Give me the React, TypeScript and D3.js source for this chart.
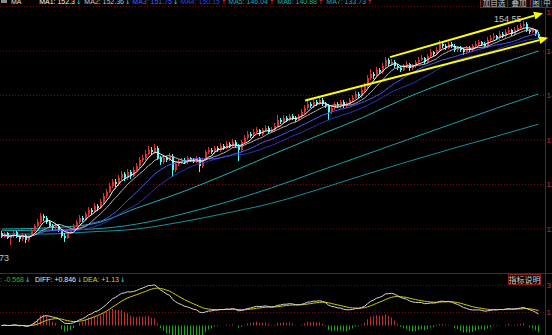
import React from 'react';
import * as d3 from 'd3';

// ---------- DATA ----------
const opens = [
  115.8,115.2,115.8,114.9,115.3,116.0,115.2,114.8,115.5,114.6,
  115.3,116.4,117.2,117.9,119.0,118.6,117.9,117.2,116.8,117.2,
  116.4,115.3,115.0,116.1,116.6,117.2,117.9,118.6,118.3,119.3,
  120.1,119.7,120.8,120.4,121.5,122.6,123.4,124.4,125.2,124.8,
  125.9,126.6,125.9,127.0,126.3,127.4,128.1,129.2,129.5,130.3,
  131.0,130.6,131.4,129.5,128.8,129.5,129.2,129.9,127.4,128.4,
  128.8,129.2,128.8,129.5,129.2,129.0,129.5,128.1,129.2,130.6,
  131.0,130.6,131.4,131.0,131.7,131.4,132.1,131.7,132.5,131.7,
  131.0,132.5,133.2,133.9,133.5,134.3,134.6,133.9,134.6,135.0,
  134.3,134.6,135.4,136.5,136.1,136.8,136.5,137.2,136.8,136.5,
  137.2,137.9,138.6,139.4,139.0,139.7,139.4,140.1,139.4,139.0,
  137.9,138.6,139.4,139.0,139.7,139.0,139.4,140.1,140.5,141.2,
  140.8,141.9,142.6,144.1,144.8,144.5,145.6,145.2,146.3,147.4,
  146.6,147.0,146.3,145.9,145.6,146.3,146.6,145.9,146.3,147.0,
  147.4,147.7,147.0,148.1,148.8,148.5,149.2,150.3,149.9,149.6,
  150.3,149.9,149.2,149.6,149.2,148.8,149.6,149.2,149.9,150.3,
  150.6,150.3,149.9,151.0,151.4,151.7,151.4,152.1,151.7,152.5,
  152.8,152.1,152.8,153.2,153.6,153.9,152.8,152.5,152.8,152.1,
];
const closes = [
  115.3,115.7,115.0,115.3,115.9,115.2,114.8,115.5,114.6,115.3,
  116.4,117.2,117.9,119.0,118.6,117.9,117.2,116.8,117.2,116.4,
  115.3,115.0,116.1,116.6,117.2,117.9,118.6,118.3,119.3,120.1,
  119.7,120.8,120.4,121.5,122.6,123.4,124.4,125.2,124.8,125.9,
  126.6,125.9,127.0,126.3,127.4,128.1,129.2,129.5,130.3,131.0,
  130.6,131.4,129.5,128.8,129.5,129.2,129.9,127.4,128.4,128.8,
  129.2,128.8,129.5,129.2,129.0,129.5,128.1,129.2,130.6,131.0,
  130.6,131.4,131.0,131.7,131.4,132.1,131.7,132.5,131.7,131.0,
  132.5,133.2,133.9,133.5,134.3,134.6,133.9,134.6,135.0,134.3,
  134.6,135.4,136.5,136.1,136.8,136.5,137.2,136.8,136.5,137.2,
  137.9,138.6,139.4,139.0,139.7,139.4,140.1,139.4,139.0,137.9,
  138.6,139.4,139.0,139.7,139.0,139.4,140.1,140.5,141.2,140.8,
  141.9,142.6,144.1,144.8,144.5,145.6,145.2,146.3,147.4,146.6,
  147.0,146.3,145.9,145.6,146.3,146.6,145.9,146.3,147.0,147.4,
  147.7,147.0,148.1,148.8,148.5,149.2,150.3,149.9,149.6,150.3,
  149.9,149.2,149.6,149.2,148.8,149.6,149.2,149.9,150.3,150.6,
  150.3,149.9,151.0,151.4,151.7,151.4,152.1,151.7,152.5,152.8,
  152.1,152.8,153.2,153.6,153.9,152.8,152.5,152.8,152.1,151.7,
];
const highs = [
  116.2,116.0,116.1,115.6,116.3,116.2,115.5,115.8,115.7,115.6,
  116.7,117.6,118.4,119.5,119.4,119.0,118.3,117.6,117.7,117.5,
  116.7,115.8,116.5,117.0,117.6,118.3,119.1,119.0,119.7,120.6,
  120.5,121.3,121.2,122.0,123.1,123.9,125.0,125.8,125.7,126.4,
  127.2,127.0,127.5,127.4,127.9,128.6,129.7,130.1,130.9,131.7,
  131.5,132.0,131.8,129.9,130.0,129.9,130.4,130.2,128.8,129.3,
  129.6,129.5,129.9,129.8,129.6,129.9,129.8,129.6,131.0,131.5,
  131.4,131.8,131.7,132.2,132.0,132.6,132.4,133.0,132.8,132.0,
  132.9,133.7,134.4,134.3,134.8,135.1,134.9,135.0,135.5,135.3,
  135.1,135.9,137.3,136.9,137.3,137.1,137.6,137.5,137.1,137.6,
  138.4,139.1,139.9,139.8,140.2,140.1,140.6,140.4,139.7,139.3,
  139.0,139.8,139.7,140.1,140.0,139.8,140.5,141.0,141.7,141.5,
  142.4,143.1,144.6,145.8,145.2,146.1,146.0,146.8,147.9,147.7,
  147.5,147.3,146.6,146.2,146.7,147.1,146.9,146.7,147.4,147.9,
  148.2,148.0,148.5,149.3,149.1,149.7,151.0,150.6,150.2,150.7,
  150.6,150.2,150.0,149.9,149.5,150.0,149.9,150.3,150.8,151.1,
  150.9,150.6,151.5,151.9,152.2,152.0,152.6,152.4,153.0,153.3,
  153.1,153.3,153.7,154.1,154.55,154.2,153.1,153.2,153.0,152.4,
];
const lows = [
  114.9,114.9,114.7,113.73,115.0,114.9,114.3,114.5,114.0,114.3,
  115.1,116.1,116.9,117.6,118.1,117.5,116.8,116.3,116.5,116.0,
  114.9,114.2,114.8,115.8,116.3,116.9,117.6,117.8,118.0,119.0,
  119.2,119.5,119.9,120.2,121.2,122.3,123.1,124.0,124.3,124.5,
  125.6,125.3,125.6,125.8,126.0,127.1,127.8,128.8,129.2,130.0,
  130.1,130.3,129.1,128.3,128.5,128.8,128.9,126.1,127.0,128.0,
  128.5,128.4,128.5,128.8,128.6,128.7,126.9,127.8,128.9,130.2,
  130.2,130.3,130.6,130.7,131.0,131.1,131.3,131.4,131.3,129.0,
  130.7,132.2,132.9,133.1,133.2,134.0,133.5,133.6,134.3,133.9,
  134.0,134.3,135.2,135.7,135.8,136.1,136.2,136.4,136.1,136.2,
  136.9,137.6,138.3,138.6,138.7,139.0,139.1,139.0,138.6,136.5,
  137.6,138.3,138.6,138.7,138.6,138.7,139.1,139.8,140.2,140.4,
  140.5,141.6,142.3,143.8,144.0,144.2,144.8,144.9,146.0,146.2,
  146.3,145.9,145.5,145.1,145.3,146.0,145.4,145.6,146.0,146.7,
  147.1,146.6,146.7,147.8,148.1,148.2,148.9,149.5,149.2,149.3,
  149.5,148.8,148.9,148.8,148.3,148.5,148.8,148.9,149.6,150.0,
  149.9,149.5,149.6,150.7,151.1,151.0,151.1,151.3,151.4,152.2,
  151.7,151.8,152.5,152.9,153.2,152.4,152.1,152.2,151.7,151.3,
];

// short moving-average periods (MA1..MA4)
const shortMaPeriods = [5, 10, 20, 30];
// long moving averages (MA5..MA7) at these bar indices
const longMaIndex = [0, 15, 30, 45, 60, 75, 90, 105, 120, 135, 150, 165, 179];
const ma5Values = [116.6, 116.8, 117.5, 120.4, 123.3, 126.6, 130.1, 133.5, 136.8, 140.5, 143.7, 146.5, 149.0];
const ma6Values = [116.3, 116.4, 116.6, 117.5, 119.3, 121.5, 124.1, 127.0, 129.9, 132.8, 135.7, 138.6, 141.2];
const ma7Values = [115.7, 115.7, 116.1, 116.6, 117.9, 119.5, 121.3, 123.7, 126.3, 128.8, 131.2, 133.5, 135.7];

const priceTicks = [157.2, 149.1, 141.0, 132.9, 124.8, 116.7];
const priceTickLabels = ['157.20', '149.10', '141.00', '132.90', '124.80', '116.70'];
const macdTicks = [3, 1];
const macdTickLabels = ['3.00', '1.00'];

// drawn trend lines (bar index, price)
const trendLower = [{ i: 101.2, p: 140.0 }, { i: 182.2, p: 151.4 }];
const trendUpper = [{ i: 129.5, p: 147.9 }, { i: 180.5, p: 155.9 }];

// header items: text, arrow, colour, arrow x
const maHeader = [
  { t: 'MA1: 152.3', a: '↓', c: '#ffffff', ax: 76 },
  { t: 'MA2: 152.36', a: '↓', c: '#c8c8c8', ax: 125 },
  { t: 'MA3: 151.75', a: '↓', c: '#4a62ff', ax: 173 },
  { t: 'MA4: 150.15', a: '↑', c: '#3446d0', ax: 221 },
  { t: 'MA5: 146.04', a: '↑', c: '#1fb0b0', ax: 269 },
  { t: 'MA6: 140.88', a: '↑', c: '#1fb0b0', ax: 318 },
  { t: 'MA7: 133.73', a: '↑', c: '#1fb0b0', ax: 367 },
];
const macdHeader = [
  { t: 'MACD: -0.568', a: '↓', c: '#20c020', ax: 25 },
  { t: 'DIFF: +0.846', a: '↓', c: '#e8e8e8', ax: 77 },
  { t: 'DEA: +1.13', a: '↓', c: '#d8d800', ax: 120 },
];
const topButtons = [
  { t: '加自选', x: 480, w: 27 },
  { t: '叠加', x: 507, w: 23 },
  { t: '图', x: 530, w: 11 },
  { t: '中', x: 541, w: 11 },
];

// ---------- COMPONENT ----------
export default function App() {
  const W = 552, H = 335;
  const n = closes.length;
  const x = d3.scaleLinear().domain([0, n - 1]).range([1.5, 1.5 + 3 * (n - 1)]);
  const y = d3.scaleLinear().domain([116.7, 157.2]).range([228.5, 6]);
  const ym = d3.scaleLinear().domain([1, 3]).range([312, 285]);

  const sma = (p: number) =>
    closes.map((_, i) => d3.mean(closes.slice(Math.max(0, i - p + 1), i + 1)) as number);
  const shortMas = shortMaPeriods.map(sma);
  const shortColors = ['#ffffff', '#b4b4b4', '#4a5cff', '#2c36b8'];

  // MACD(12,26,9)
  let e12 = closes[0], e26 = closes[0], dea = 0;
  const diffs: number[] = [], deas: number[] = [], macds: number[] = [];
  closes.forEach((c) => {
    e12 = (2 * c + 11 * e12) / 13;
    e26 = (2 * c + 25 * e26) / 27;
    const diff = e12 - e26;
    dea = (2 * diff + 8 * dea) / 10;
    diffs.push(diff); deas.push(dea); macds.push(2 * (diff - dea));
  });

  const lineP = d3.line<number>().x((_, i) => x(i)).y((v) => y(v));
  const lineLong = d3.line<number>().x((_, k) => x(longMaIndex[k])).y((v) => y(v)).curve(d3.curveMonotoneX);
  const lineM = d3.line<number>().x((_, i) => x(i)).y((v) => ym(v));

  const trend = (pts: { i: number; p: number }[], key: string) => {
    const x1 = x(pts[0].i), y1 = y(pts[0].p), x2 = x(pts[1].i), y2 = y(pts[1].p);
    const ang = Math.atan2(y2 - y1, x2 - x1);
    const L = 9, Wd = 4;
    const bx = x2 - L * Math.cos(ang), by = y2 - L * Math.sin(ang);
    const p1 = [bx + Wd * Math.sin(ang), by - Wd * Math.cos(ang)];
    const p2 = [bx - Wd * Math.sin(ang), by + Wd * Math.cos(ang)];
    return (
      <g key={key}>
        <line x1={x1} y1={y1} x2={bx} y2={by} stroke="#ffff00" strokeWidth={2} />
        <polygon points={`${x2},${y2} ${p1[0]},${p1[1]} ${p2[0]},${p2[1]}`} fill="#ffff00" />
      </g>
    );
  };

  const font = '"Liberation Sans", Arial, "Noto Sans CJK SC", sans-serif';
  const grid = '#7a0a0a';
  const up = '#e0302e';
  const down = '#54fcfc';
  const hiIdx = highs.indexOf(d3.max(highs) as number);
  const loIdx = lows.indexOf(d3.min(lows) as number);
  const fs = 7;
  const afs = 6.5;

  return (
    <svg width={W} height={H} style={{ position: 'fixed', left: 0, top: 0, background: '#000' }} fontFamily={font}>
      <defs>
        <clipPath id="mainClip"><rect x={0} y={6} width={545} height={267} /></clipPath>
        <clipPath id="macdClip"><rect x={0} y={274} width={545} height={61} /></clipPath>
      </defs>
      <rect x={0} y={0} width={W} height={H} fill="#000" />

      {/* grid lines */}
      {priceTicks.map((t, k) => (
        <line key={'g' + k} x1={0} x2={545} y1={y(t) + 0.5} y2={y(t) + 0.5} stroke={grid} strokeDasharray="1,2" />
      ))}
      {macdTicks.map((t, k) => (
        <line key={'gm' + k} x1={0} x2={545} y1={ym(t) + 0.5} y2={ym(t) + 0.5} stroke={grid} strokeDasharray="1,2" />
      ))}
      <line x1={0} x2={W} y1={273.5} y2={273.5} stroke="#8a1010" />
      <line x1={545.5} x2={545.5} y1={0} y2={H} stroke="#8a1010" />

      {/* main panel */}
      <g clipPath="url(#mainClip)">
        {[ma7Values, ma6Values, ma5Values].map((vals, k) => (
          <path key={'lm' + k} d={lineLong(vals) || ''} fill="none" stroke={['#168f98', '#1a9ea6', '#20b0b0'][k]} strokeWidth={1} />
        ))}
        <g shapeRendering="crispEdges">
          {closes.map((c, i) => {
            const o = opens[i];
            const col = c >= o ? up : down;
            const top = y(Math.max(o, c)), bot = y(Math.min(o, c));
            return (
              <g key={'c' + i}>
                <rect x={x(i) - 0.5} y={y(highs[i])} width={1} height={Math.max(1, y(lows[i]) - y(highs[i]))} fill={col} />
                <rect x={x(i) - 1} y={top} width={2} height={Math.max(1, bot - top)} fill={col} />
              </g>
            );
          })}
        </g>
        {shortMas.slice().reverse().map((vals, k) => (
          <path key={'sm' + k} d={lineP(vals) || ''} fill="none" stroke={shortColors.slice().reverse()[k]} strokeWidth={1} />
        ))}
      </g>

      {/* high / low labels */}
      <text x={x(hiIdx) - 2} y={y(highs[hiIdx]) + 1} fontSize={9} fill="#c0c0c0" textAnchor="end">{highs[hiIdx].toFixed(2)}</text>
      <text x={9} y={261} fontSize={9} fill="#c0c0c0" textAnchor="end">{lows[loIdx].toFixed(2)}</text>

      {/* trend lines */}
      {trend(trendLower, 'tl')}
      {trend(trendUpper, 'tu')}

      {/* right axis labels (the top one sits just below its line) */}
      {priceTicks.map((t, k) => (
        <text key={'pl' + k} x={546.5} y={k === 0 ? y(t) + 9 : y(t) + 3} fontSize={8} fill="#d03030">{priceTickLabels[k]}</text>
      ))}
      {macdTicks.map((t, k) => (
        <text key={'ml' + k} x={546.5} y={ym(t) + 3} fontSize={8} fill="#d03030">{macdTickLabels[k]}</text>
      ))}

      {/* header */}
      <rect x={1} y={-3} width={6} height={6} fill="#8a8a8a" />
      <text x={11} y={4} fontSize={fs} fill="#e0e0e0">MA</text>
      {maHeader.map((h, k) => (
        <g key={'h' + k}>
          <text x={h.ax - 1} y={4} fontSize={fs} fill={h.c} textAnchor="end">{h.t}</text>
          <text x={h.ax} y={4} fontSize={afs} fill={h.a === '↑' ? '#ff3030' : '#30e0ff'} fontFamily="DejaVu Sans">{h.a}</text>
        </g>
      ))}
      {topButtons.map((b, k) => (
        <g key={'b' + k}>
          <rect x={b.x + 0.5} y={-2.5} width={b.w} height={10} fill="#0a0a0a" stroke="#7a2020" />
          <text x={b.x + b.w / 2 + 0.5} y={5.5} fontSize={7.5} fill="#c8c8c8" textAnchor="middle" fontFamily='"Noto Sans CJK SC", sans-serif'>{b.t}</text>
        </g>
      ))}

      {/* MACD panel */}
      <g clipPath="url(#macdClip)">
        {macds.map((m, i) => (
          <line key={'mb' + i} x1={x(i)} x2={x(i)} y1={ym(0)} y2={ym(m)} stroke={m >= 0 ? '#c43030' : '#10b010'} strokeWidth={1} />
        ))}
        <path d={lineM(deas) || ''} fill="none" stroke="#d0d000" strokeWidth={1} />
        <path d={lineM(diffs) || ''} fill="none" stroke="#d8d8d8" strokeWidth={1} />
      </g>
      {macdHeader.map((h, k) => (
        <g key={'mh' + k}>
          <text x={h.ax - 1} y={282} fontSize={fs} fill={h.c} textAnchor="end">{h.t}</text>
          <text x={h.ax} y={282} fontSize={afs} fill="#30e0ff" fontFamily="DejaVu Sans">{h.a}</text>
        </g>
      ))}
      <rect x={508.5} y={274.5} width={32} height={10} fill="#000" stroke="#8a1a1a" />
      <text x={524.5} y={282.5} fontSize={8} fill="#d0d0d0" textAnchor="middle" fontFamily='"Noto Sans CJK SC", sans-serif'>指标说明</text>
    </svg>
  );
}
